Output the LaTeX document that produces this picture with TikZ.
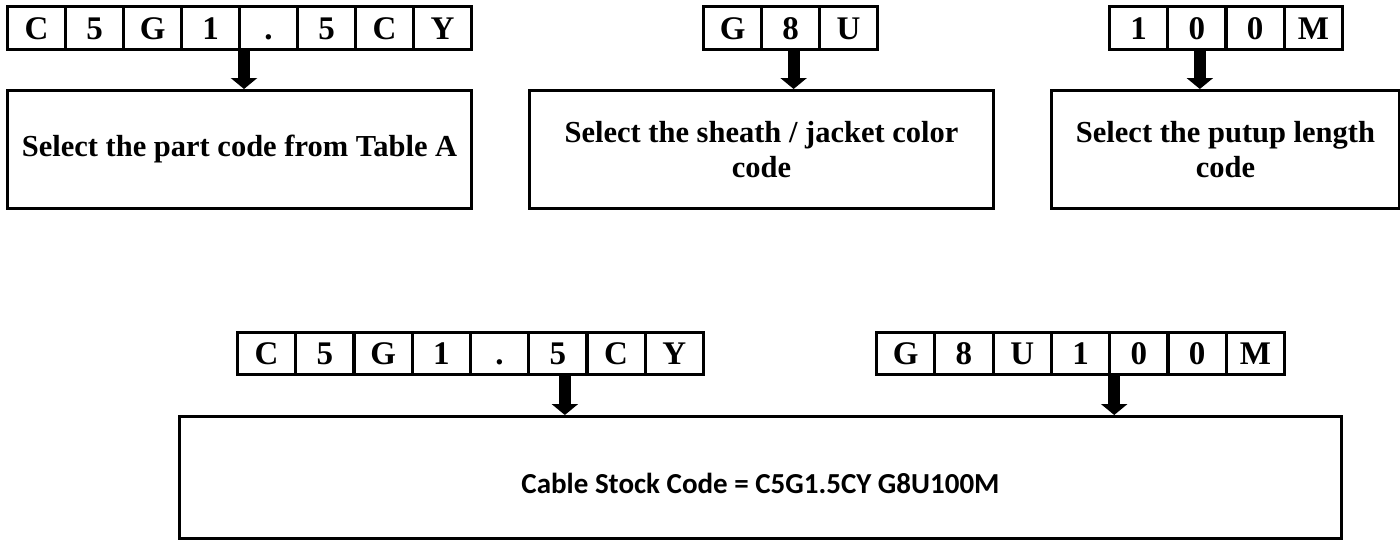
\documentclass[tikz,border=0pt]{standalone}
\usepackage{fontspec}
\setmainfont{Liberation Serif}
\newfontfamily\calibri{Carlito}
\usepackage{tikz}
\usetikzlibrary{arrows.meta, positioning, calc}

\begin{document}
\begin{tikzpicture}[x=1pt, y=-1pt,
    cell/.style={draw, line width=3pt, minimum width=58.2pt, minimum height=43pt,
        inner sep=0pt, anchor=north west, text height=22pt, text depth=0pt,
        font=\fontsize{33}{33}\selectfont\bfseries},
    infobox/.style={draw, line width=3pt, inner sep=0pt, anchor=north west, align=center,
        minimum height=118pt, font=\fontsize{30.5}{35}\selectfont\bfseries},
    fatarrow/.style={line width=12pt, -{Triangle[width=26pt, length=11pt]}}]
    \useasboundingbox (0,0) rectangle (1400,539);
    % top: part code
    \foreach \ch [count=\i] in {C,5,G,1,.,5,C,Y}
        \node[cell] (pa\i) at ({6+58*(\i-1)}, 5) {\ch};
    \node[infobox, minimum width=464pt] (partbox) at (6,89)
        {Select the part code from Table A};
    % top: sheath / jacket colour
    \foreach \ch [count=\i] in {G,8,U}
        \node[cell] (sj\i) at ({702+58*(\i-1)}, 5) {\ch};
    \node[infobox, minimum width=464pt] (colorbox) at (528,89)
        {Select the sheath / jacket color\\code};
    % top: putup length
    \foreach \ch [count=\i] in {1,0,0,M}
        \node[cell] (pl\i) at ({1108+58.25*(\i-1)}, 5) {\ch};
    \node[infobox, minimum width=348pt] (lengthbox) at (1050,89)
        {Select the putup length\\code};
    % bottom: full stock code
    \foreach \ch [count=\i] in {C,5,G,1,.,5,C,Y}
        \node[cell, minimum height=42pt] (ba\i) at ({236+58.25*(\i-1)}, 331) {\ch};
    \foreach \ch [count=\i] in {G,8,U,1,0,0,M}
        \node[cell, minimum height=42pt] (bb\i) at ({875+58.3*(\i-1)}, 331) {\ch};
    \node[infobox, minimum width=1162pt, minimum height=122pt, text height=32pt,
        font=\calibri\fontsize{29}{29}\selectfont\bfseries] (stockbox) at (178,415)
        {Cable Stock Code = C5G1.5CY G8U100M};
    % arrows
    \coordinate (a1) at ($(pa5.south west)+(6,0)$);
    \coordinate (a2) at ($(sj2.south)+(3,0)$);
    \coordinate (a3) at ($(pl2.south)+(3,0)$);
    \coordinate (a4) at ($(ba6.south)+(7,0)$);
    \coordinate (a5) at ($(bb5.south west)+(6,0)$);
    \draw[fatarrow] (a1) -- (a1 |- partbox.north);
    \draw[fatarrow] (a2) -- (a2 |- colorbox.north);
    \draw[fatarrow] (a3) -- (a3 |- lengthbox.north);
    \draw[fatarrow] (a4) -- (a4 |- stockbox.north);
    \draw[fatarrow] (a5) -- (a5 |- stockbox.north);
\end{tikzpicture}
\end{document}
